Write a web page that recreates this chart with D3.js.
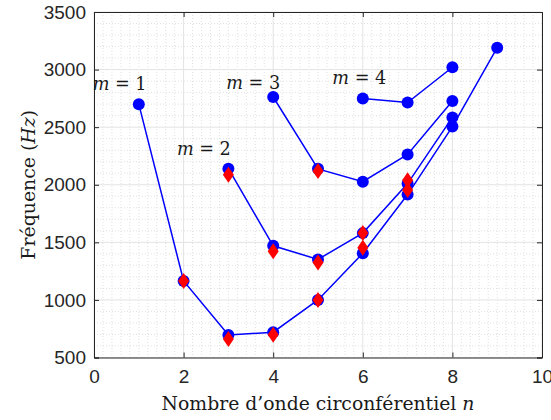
<!DOCTYPE html>
<html>
<head>
<meta charset="utf-8">
<script src="https://cdn.jsdelivr.net/npm/d3@7/dist/d3.min.js"></script>
<style>
  html, body { margin: 0; padding: 0; background: #fff; }
  svg { display: block; }
</style>
</head>
<body>
<svg id="chart" width="551" height="420"></svg>
<script>
// ---- data ----
const m1N = [1, 2, 3, 4, 5, 6, 7, 8, 9];
const m1F = [2700, 1165, 695, 720, 1000, 1405, 1915, 2505, 3190];
const m2N = [3, 4, 5, 6, 7, 8];
const m2F = [2140, 1470, 1352, 1580, 2010, 2585];
const m3N = [4, 5, 6, 7, 8];
const m3F = [2762, 2138, 2026, 2263, 2728];
const m4N = [6, 7, 8];
const m4F = [2748, 2714, 3020];
const redN = [2, 3, 4, 5, 6, 7, 3, 4, 5, 6, 7, 5];
const redF = [1165, 660, 697, 1000, 1452, 1955, 2087, 1422, 1325, 1580, 2040, 2120];
const xTicks = [0, 2, 4, 6, 8, 10];
const yTicks = [500, 1000, 1500, 2000, 2500, 3000, 3500];
const labelText = ["1", "2", "3", "4"];
const labelN = [-0.03, 1.85, 2.95, 5.32];
const labelF = [2820, 2262, 2832, 2878];

const series = [[m1N, m1F], [m2N, m2F], [m3N, m3F], [m4N, m4F]];

// ---- layout ----
const L = 94, R = 542, T = 12, B = 357.5;
const svg = d3.select("#chart");
const x = d3.scaleLinear().domain([0, 10]).range([L, R]);
const y = d3.scaleLinear().domain([500, 3500]).range([B, T]);

const axisColor = "#262626";
const tickFont = "'Liberation Sans', Arial, Helvetica, sans-serif";
const serif = "'DejaVu Serif', 'Liberation Serif', serif";

// minor grid
const minorX = d3.range(0, 10.0001, 0.2).filter(v => Math.abs(v / 2 - Math.round(v / 2)) > 1e-6);
const minorY = d3.range(500, 3500.1, 100).filter(v => v % 500 !== 0);
const g = svg.append("g");
g.selectAll(".mx").data(minorX).enter().append("line")
  .attr("x1", d => x(d)).attr("x2", d => x(d)).attr("y1", T).attr("y2", B)
  .attr("stroke", "#d9d9d9").attr("stroke-width", 0.8).attr("stroke-dasharray", "1,2");
g.selectAll(".my").data(minorY).enter().append("line")
  .attr("y1", d => y(d)).attr("y2", d => y(d)).attr("x1", L).attr("x2", R)
  .attr("stroke", "#d9d9d9").attr("stroke-width", 0.8).attr("stroke-dasharray", "1,2");
// major grid
g.selectAll(".gx").data(xTicks).enter().append("line")
  .attr("x1", d => x(d)).attr("x2", d => x(d)).attr("y1", T).attr("y2", B)
  .attr("stroke", "#e3e3e3").attr("stroke-width", 1);
g.selectAll(".gy").data(yTicks).enter().append("line")
  .attr("y1", d => y(d)).attr("y2", d => y(d)).attr("x1", L).attr("x2", R)
  .attr("stroke", "#e3e3e3").attr("stroke-width", 1);

// axes (ticks inward)
const xAxisB = d3.axisBottom(x).tickValues(xTicks).tickSize(-5).tickPadding(12).tickFormat(d3.format("d"));
const xAxisT = d3.axisTop(x).tickValues(xTicks).tickSize(-5).tickFormat("");
const yAxisL = d3.axisLeft(y).tickValues(yTicks).tickSize(-5).tickPadding(8).tickFormat(d3.format("d"));
const yAxisR = d3.axisRight(y).tickValues(yTicks).tickSize(-5).tickFormat("");

function styleAxis(sel) {
  sel.select(".domain").attr("stroke", axisColor).attr("stroke-width", 1);
  sel.selectAll(".tick line").attr("stroke", axisColor);
  sel.selectAll(".tick text").attr("fill", axisColor).style("font-family", tickFont).style("font-size", "19px");
}
svg.append("g").attr("transform", `translate(0,${B})`).call(xAxisB).call(styleAxis);
svg.append("g").attr("transform", `translate(0,${T})`).call(xAxisT).call(styleAxis);
svg.append("g").attr("transform", `translate(${L},0)`).call(yAxisL).call(styleAxis);
svg.append("g").attr("transform", `translate(${R},0)`).call(yAxisR).call(styleAxis);

// lines
const line = d3.line().x(d => x(d[0])).y(d => y(d[1]));
series.forEach(([ns, fs]) => {
  const pts = ns.map((n, i) => [n, fs[i]]);
  svg.append("path").datum(pts).attr("d", line)
    .attr("fill", "none").attr("stroke", "#0000ff").attr("stroke-width", 1.5);
});
series.forEach(([ns, fs]) => {
  svg.append("g").selectAll("circle").data(ns.map((n, i) => [n, fs[i]])).enter().append("circle")
    .attr("cx", d => x(d[0])).attr("cy", d => y(d[1])).attr("r", 6)
    .attr("fill", "#0000ff");
});
// red diamonds
const redPts = redN.map((n, i) => [n, redF[i]]);
svg.append("g").selectAll("path").data(redPts).enter().append("path")
  .attr("transform", d => `translate(${x(d[0])},${y(d[1])})`)
  .attr("d", "M0,-8 L5.5,0 L0,8 L-5.5,0 Z")
  .attr("fill", "#ff0000");

function fitText(sel, target) {
  const w = sel.node().getComputedTextLength();
  const fs = parseFloat(sel.style("font-size"));
  sel.style("font-size", (fs * target / w) + "px");
}

// m labels
labelText.forEach((t, i) => {
  const txt = svg.append("text")
    .attr("x", x(labelN[i])).attr("y", y(labelF[i]))
    .attr("fill", "#1a1a1a")
    .style("font-family", serif).style("font-size", "18px");
  txt.append("tspan").style("font-style", "italic").text("m");
  txt.append("tspan").text(" = " + t);
  fitText(txt, 54);
});

// axis labels
const xl = svg.append("text").attr("x", (L + R) / 2).attr("y", 410).attr("text-anchor", "middle")
  .attr("fill", "#1a1a1a").style("font-family", serif).style("font-size", "18px");
xl.append("tspan").text("Nombre d\u2019onde circonf\u00e9rentiel ");
xl.append("tspan").style("font-style", "italic").text("n");
fitText(xl, 313);

const yl = svg.append("text").attr("transform", `translate(35,${(T + B) / 2}) rotate(-90)`).attr("text-anchor", "middle")
  .attr("fill", "#1a1a1a").style("font-family", serif).style("font-size", "18px");
yl.append("tspan").text("Fr\u00e9quence (");
yl.append("tspan").style("font-style", "italic").text("Hz");
yl.append("tspan").text(")");
fitText(yl, 150);
</script>
</body>
</html>
